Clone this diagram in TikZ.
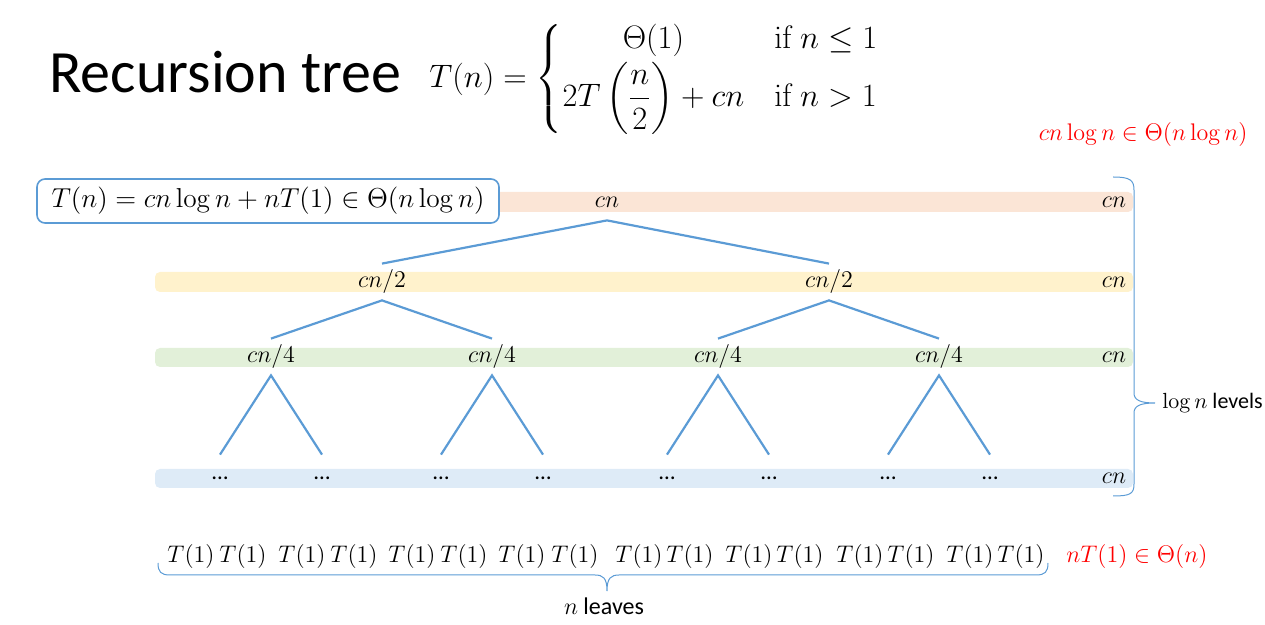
\documentclass[tikz,border=0pt]{standalone}
\usepackage{amsmath}
\usepackage{amssymb}
\usepackage[no-math]{fontspec}
\setmainfont{Carlito}
\usepackage{tikz}
\definecolor{barpeach}{HTML}{FBE5D6}
\definecolor{baryellow}{HTML}{FFF2CC}
\definecolor{bargreen}{HTML}{E2F0D9}
\definecolor{barblue}{HTML}{DEEBF7}
\definecolor{treeblue}{HTML}{5B9BD5}
\definecolor{sumred}{HTML}{FF0000}

\begin{document}
\begin{tikzpicture}[x=0.5pt, y=-0.5pt,
		level_style/.style={font=\fontsize{11.5}{13}\selectfont, minimum height=18pt, inner sep=1pt},
		leaf_style/.style={font=\fontsize{11.5}{13}\selectfont, minimum height=23pt, inner sep=1pt},
		cost_style/.style={font=\fontsize{11.5}{13}\selectfont, inner sep=1pt},
		one_style/.style={font=\fontsize{11.5}{13}\selectfont, inner sep=0pt},
		red_style/.style={font=\fontsize{12}{14}\selectfont, text=sumred, inner sep=0pt},
		bar_style/.style={rounded corners=2.5pt},
		edge_style/.style={draw=treeblue, line width=1.1pt},
		brace_style/.style={draw=treeblue, line width=0.5pt},
		box_style/.style={draw=treeblue, line width=0.8pt, rounded corners=4pt, fill=white,
			minimum width=231pt, minimum height=22pt, inner sep=2pt, font=\fontsize{13.3}{16}\selectfont}]
		
		\useasboundingbox (0,0) rectangle (1265,625);
		
		\fill[bar_style, barpeach] (155,192) rectangle (1133,212);
		\fill[bar_style, baryellow] (155,272) rectangle (1133,292);
		\fill[bar_style, bargreen] (155,348) rectangle (1133,367);
		\fill[bar_style, barblue] (155,469) rectangle (1133,488);
		
		\node[anchor=west, inner sep=0pt, font=\fontsize{30}{36}\selectfont] (title) at (49,72) {Recursion tree};
		\node[anchor=west, inner sep=0pt, font=\fontsize{16}{19}\selectfont] (rec) at (429,79)
			{\scalebox{0.94}{$T(n)=\left\{\begin{array}{@{}c@{\quad}l@{}}\Theta(1) & \mathrm{if}\ n\le 1\\[2pt] \displaystyle 2T\left(\frac{n}{2}\right)+cn & \mathrm{if}\ n>1\end{array}\right.$}};
		\node[red_style, anchor=east] (total) at (1248,135) {$cn\log n\in\Theta(n\log n)$};
		
		\node[box_style] (sum) at (268,201) {\scalebox{0.95}{$T(n)=cn\log n+nT(1)\in\Theta(n\log n)$}};
		
		\node[level_style] (n0) at (607,202) {$cn$};
		\node[level_style] (n1a) at (382,282) {$cn/2$};
		\node[level_style] (n1b) at (829,282) {$cn/2$};
		\node[level_style] (n2a) at (271,357) {$cn/4$};
		\node[level_style] (n2b) at (492,357) {$cn/4$};
		\node[level_style] (n2c) at (718,357) {$cn/4$};
		\node[level_style] (n2d) at (939,357) {$cn/4$};
		\node[leaf_style] (d1) at (220,478) {\ldots};
		\node[leaf_style] (d2) at (322,478) {\ldots};
		\node[leaf_style] (d3) at (441,478) {\ldots};
		\node[leaf_style] (d4) at (543,478) {\ldots};
		\node[leaf_style] (d5) at (667,478) {\ldots};
		\node[leaf_style] (d6) at (769,478) {\ldots};
		\node[leaf_style] (d7) at (888,478) {\ldots};
		\node[leaf_style] (d8) at (990,478) {\ldots};
		
		\node[cost_style] (c0) at (1114,202) {$cn$};
		\node[cost_style] (c1) at (1114,282) {$cn$};
		\node[cost_style] (c2) at (1114,357) {$cn$};
		\node[cost_style] (c3) at (1114,478) {$cn$};
		
		\draw[edge_style] (n1a.north) -- (n0.south) -- (n1b.north);
		\draw[edge_style] (n2a.north) -- (n1a.south) -- (n2b.north);
		\draw[edge_style] (n2c.north) -- (n1b.south) -- (n2d.north);
		\draw[edge_style] (d1.north) -- (n2a.south) -- (d2.north);
		\draw[edge_style] (d3.north) -- (n2b.south) -- (d4.north);
		\draw[edge_style] (d5.north) -- (n2c.south) -- (d6.north);
		\draw[edge_style] (d7.north) -- (n2d.south) -- (d8.north);
		
		\draw[brace_style] (1113,177) .. controls (1130,177) and (1134,180) .. (1134,190) -- (1134,393)
			.. controls (1134,400) and (1140,403) .. (1155,403) .. controls (1140,403) and (1134,406) .. (1134,413)
			-- (1134,484) .. controls (1134,494) and (1130,496) .. (1113,496);
		\node[anchor=west, inner sep=0pt, font=\fontsize{11}{13}\selectfont] (levels) at (1162,403) {$\log n$ levels};
		
		\node[one_style] (t1) at (191,557) {$T(1)$};
		\node[one_style] (t2) at (243,557) {$T(1)$};
		\node[one_style] (t3) at (302,557) {$T(1)$};
		\node[one_style] (t4) at (354,557) {$T(1)$};
		\node[one_style] (t5) at (412,557) {$T(1)$};
		\node[one_style] (t6) at (464,557) {$T(1)$};
		\node[one_style] (t7) at (522,557) {$T(1)$};
		\node[one_style] (t8) at (575,557) {$T(1)$};
		\node[one_style] (t9) at (639,557) {$T(1)$};
		\node[one_style] (t10) at (690,557) {$T(1)$};
		\node[one_style] (t11) at (749,557) {$T(1)$};
		\node[one_style] (t12) at (800,557) {$T(1)$};
		\node[one_style] (t13) at (860,557) {$T(1)$};
		\node[one_style] (t14) at (911,557) {$T(1)$};
		\node[one_style] (t15) at (970,557) {$T(1)$};
		\node[one_style] (t16) at (1021,557) {$T(1)$};
		\node[red_style, anchor=west] (leafsum) at (1066,557) {$nT(1)\in\Theta(n)$};
		
		\draw[brace_style] (158,563) .. controls (158,572) and (161,575) .. (170,575) -- (595,575)
			.. controls (603,575) and (607,578) .. (607,591) .. controls (607,578) and (611,575) .. (619,575)
			-- (1036,575) .. controls (1045,575) and (1048,572) .. (1048,563);
		\node[inner sep=0pt, font=\fontsize{12}{14}\selectfont] (leaves) at (604,606) {$n$ leaves};
		
\end{tikzpicture}
\end{document}
